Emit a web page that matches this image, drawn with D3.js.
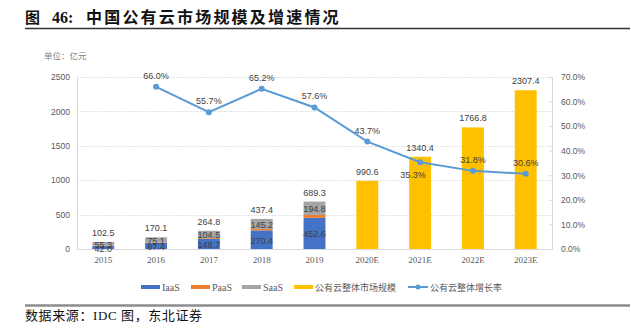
<!DOCTYPE html>
<html>
<head>
<meta charset="utf-8">
<script src="https://cdn.jsdelivr.net/npm/d3@7"></script>
<style>
  body { margin: 0; background: #fff; }
  svg { display: block; }
</style>
</head>
<body>
<div id="chart"></div>
<script>
// China public cloud market size and growth

const years = ["2015", "2016", "2017", "2018", "2019", "2020E", "2021E", "2022E", "2023E"]
const iaas = [42.0, 87.4, 148.7, 270.4, 452.6, null, null, null, null]
const paas = [5.2, 7.6, 11.6, 21.8, 41.9, null, null, null, null]
const saas = [55.3, 75.1, 104.5, 145.2, 194.8, null, null, null, null]
const totals = [102.5, 170.1, 264.8, 437.4, 689.3, null, null, null, null]
const market = [null, null, null, null, null, 990.6, 1340.4, 1766.8, 2307.4]
const growth = [null, 66.0, 55.7, 65.2, 57.6, 43.7, 35.3, 31.8, 30.6]
const leftTicks = [0, 500, 1000, 1500, 2000, 2500]
const rightTicks = [0, 10, 20, 30, 40, 50, 60, 70]

const W = 631, H = 336
const plot = { left: 77, right: 552, top: 77, bottom: 249 }

const svg = d3.select('#chart').append('svg')
  .attr('width', W)
  .attr('height', H)
  .style('background-color', 'white')

const sans = 'Liberation Sans, Arial, Noto Sans CJK SC, sans-serif'
const serif = 'Liberation Serif, Times New Roman, Noto Sans CJK SC, serif'
const cjk = 'Noto Sans CJK SC, sans-serif'

// header
svg.append('text').attr('x', 25).attr('y', 23)
  .text('图').style('font-family', cjk).style('font-size', '15px').style('font-weight', 'bold').attr('fill', '#111')
svg.append('text').attr('x', 52).attr('y', 23)
  .text('46:').style('font-family', serif).style('font-size', '16px').style('font-weight', 'bold').attr('fill', '#111')
svg.append('text').attr('x', 86).attr('y', 23)
  .text('中国公有云市场规模及增速情况')
  .style('font-family', cjk).style('font-size', '16px').style('font-weight', 'bold')
  .style('letter-spacing', '2.2px').attr('fill', '#111')
svg.append('line').attr('x1', 25).attr('x2', 630).attr('y1', 28.5).attr('y2', 28.5)
  .attr('stroke', '#333').attr('stroke-width', 1.5)

// footer
svg.append('line').attr('x1', 25).attr('x2', 630).attr('y1', 305.5).attr('y2', 305.5)
  .attr('stroke', '#8c8c8c').attr('stroke-width', 2.5)
svg.append('text').attr('x', 25).attr('y', 320)
  .text('数据来源：IDC 图，东北证券')
  .style('font-family', serif).style('font-size', '13px').style('letter-spacing', '0.6px').attr('fill', '#111')

// unit
svg.append('text').attr('x', 44).attr('y', 59)
  .text('单位：亿元').style('font-family', cjk).style('font-size', '8.5px').attr('fill', '#7f7f7f')

// scales
const x = d3.scaleBand().domain(years).range([plot.left, plot.right]).paddingInner(0.585).paddingOuter(0.29)
const y = d3.scaleLinear().domain([0, 2500]).range([plot.bottom, plot.top])
const y2 = d3.scaleLinear().domain([0, 70]).range([plot.bottom, plot.top])
const cx = d => x(d) + x.bandwidth() / 2

// gridlines
svg.append('g').selectAll('line').data(leftTicks.slice(1)).join('line')
  .attr('x1', plot.left).attr('x2', plot.right)
  .attr('y1', d => Math.round(y(d)) + 0.5).attr('y2', d => Math.round(y(d)) + 0.5)
  .attr('stroke', '#d9d9d9').attr('stroke-dasharray', '1.5,1.5')

// left axis
const leftAxis = svg.append('g').attr('transform', `translate(${plot.left},0)`)
  .call(d3.axisLeft(y).tickValues(leftTicks).tickSize(0).tickPadding(7).tickFormat(d => String(d)))
leftAxis.select('.domain').attr('stroke', '#d9d9d9')
leftAxis.selectAll('text').style('font-family', sans).style('font-size', '8.5px').attr('fill', '#595959')

// right axis
const rightAxis = svg.append('g').attr('transform', `translate(${plot.right},0)`)
  .call(d3.axisRight(y2).tickValues(rightTicks).tickSize(-3).tickPadding(9).tickFormat(d => d.toFixed(1) + '%'))
rightAxis.select('.domain').attr('stroke', '#d9d9d9')
rightAxis.selectAll('line').attr('stroke', '#d9d9d9')
rightAxis.selectAll('text').style('font-family', sans).style('font-size', '8.5px').attr('fill', '#595959')

// x axis
const xAxis = svg.append('g').attr('transform', `translate(0,${plot.bottom})`)
  .call(d3.axisBottom(x).tickSize(0).tickPadding(8))
xAxis.select('.domain').attr('stroke', '#d9d9d9')
xAxis.selectAll('text').style('font-family', serif).style('font-size', '9px').attr('fill', '#595959')

// stacked history bars
const rows = years.map((yr, i) => ({ year: yr, iaas: iaas[i], paas: paas[i], saas: saas[i] }))
  .filter(r => r.iaas != null)
const stack = d3.stack().keys(['iaas', 'paas', 'saas'])(rows)
const colors = { iaas: '#4472C4', paas: '#ED7D31', saas: '#A5A5A5' }

stack.forEach(layer => {
  svg.append('g').selectAll('rect').data(layer).join('rect')
    .attr('x', d => x(d.data.year))
    .attr('width', x.bandwidth())
    .attr('y', d => y(d[1]))
    .attr('height', d => y(d[0]) - y(d[1]))
    .attr('fill', colors[layer.key])
})

// segment labels for IaaS and SaaS
stack.filter(l => l.key !== 'paas').forEach(layer => {
  svg.append('g').selectAll('text').data(layer).join('text')
    .attr('x', d => cx(d.data.year))
    .attr('y', d => (y(d[0]) + y(d[1])) / 2 + 1)
    .attr('text-anchor', 'middle')
    .attr('dominant-baseline', 'central')
    .text(d => d.data[layer.key].toFixed(1))
    .style('font-family', sans).style('font-size', '9px').attr('fill', '#404040')
})

// total labels above stacks
svg.append('g').selectAll('text').data(years.filter((d, i) => totals[i] != null)).join('text')
  .attr('x', d => cx(d))
  .attr('y', d => y(totals[years.indexOf(d)]) - 6)
  .attr('text-anchor', 'middle')
  .text(d => totals[years.indexOf(d)].toFixed(1))
  .style('font-family', sans).style('font-size', '9px').attr('fill', '#404040')

// forecast market bars
const fc = years.filter((d, i) => market[i] != null)
svg.append('g').selectAll('rect').data(fc).join('rect')
  .attr('x', d => x(d))
  .attr('width', x.bandwidth())
  .attr('y', d => y(market[years.indexOf(d)]))
  .attr('height', d => plot.bottom - y(market[years.indexOf(d)]))
  .attr('fill', '#FFC000')
svg.append('g').selectAll('text').data(fc).join('text')
  .attr('x', d => cx(d))
  .attr('y', d => y(market[years.indexOf(d)]) - 6)
  .attr('text-anchor', 'middle')
  .text(d => market[years.indexOf(d)].toFixed(1))
  .style('font-family', sans).style('font-size', '9px').attr('fill', '#404040')

// growth line
const pts = years.map((d, i) => ({ year: d, v: growth[i] })).filter(p => p.v != null)
svg.append('path').datum(pts)
  .attr('d', d3.line().x(p => cx(p.year)).y(p => y2(p.v)))
  .attr('fill', 'none').attr('stroke', '#5B9BD5').attr('stroke-width', 2)
svg.append('g').selectAll('circle').data(pts).join('circle')
  .attr('cx', p => cx(p.year)).attr('cy', p => y2(p.v)).attr('r', 3)
  .attr('fill', '#5B9BD5')
svg.append('g').selectAll('text').data(pts).join('text')
  .attr('x', p => cx(p.year) + (p.year === '2021E' ? -7 : 0))
  .attr('y', p => y2(p.v) + (p.year === '2021E' ? 16 : -8))
  .attr('text-anchor', 'middle')
  .text(p => p.v.toFixed(1) + '%')
  .style('font-family', sans).style('font-size', '9px').attr('fill', '#404040')

// legend
const legendY = 287
const legendItems = [
  { label: 'IaaS', color: colors.iaas, x: 141, font: serif },
  { label: 'PaaS', color: colors.paas, x: 191, font: serif },
  { label: 'SaaS', color: colors.saas, x: 242, font: serif },
  { label: '公有云整体市场规模', color: '#FFC000', x: 294, font: cjk },
  { label: '公有云整体增长率', color: '#5B9BD5', x: 408, font: cjk, line: true }
]
const lg = svg.append('g')
legendItems.forEach(it => {
  if (it.line) {
    lg.append('line').attr('x1', it.x).attr('x2', it.x + 20).attr('y1', legendY).attr('y2', legendY)
      .attr('stroke', it.color).attr('stroke-width', 2)
    lg.append('circle').attr('cx', it.x + 10).attr('cy', legendY).attr('r', 2.5).attr('fill', it.color)
  } else {
    lg.append('rect').attr('x', it.x).attr('y', legendY - 2).attr('width', 19).attr('height', 4)
      .attr('fill', it.color)
  }
  lg.append('text').attr('x', it.x + (it.line ? 22 : 21)).attr('y', legendY)
    .attr('dominant-baseline', 'central')
    .text(it.label)
    .style('font-family', it.font).style('font-size', it.font === serif ? '10px' : '9px').attr('fill', '#595959')
})
</script>
</body>
</html>
